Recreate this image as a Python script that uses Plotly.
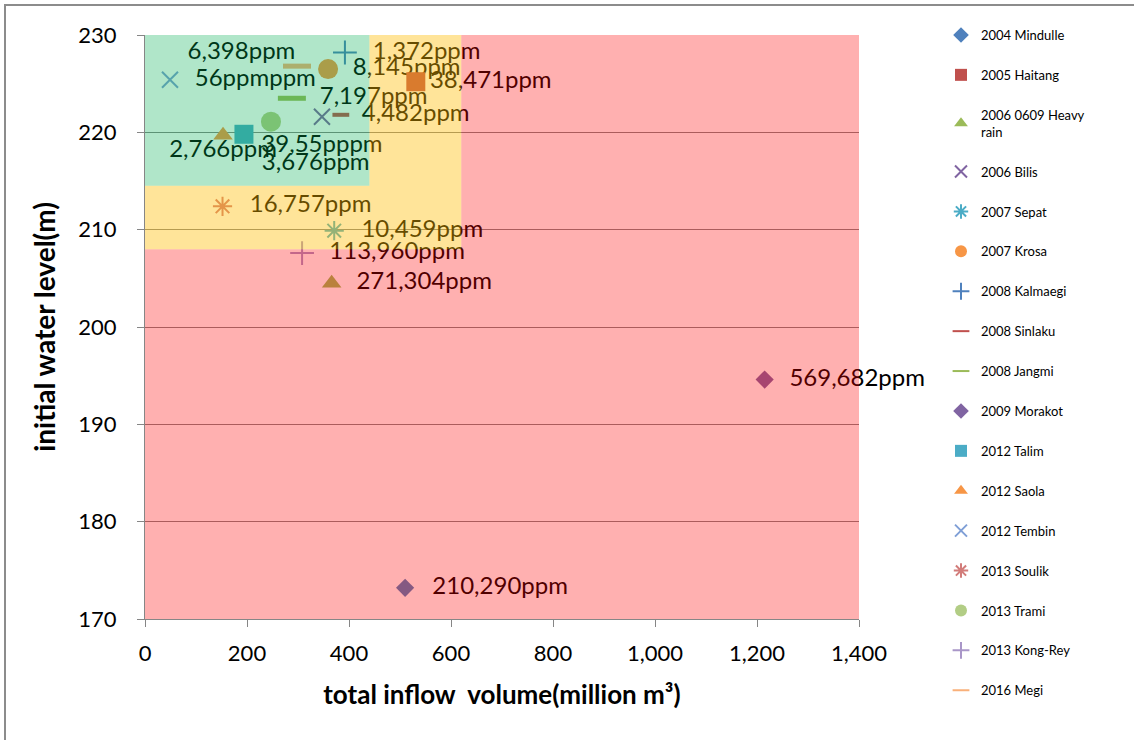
import plotly.graph_objects as go

# ---------------- data ----------------
events = ["2004 Mindulle", "2005 Haitang", "2006 0609 Heavy<br>rain", "2006 Bilis",
          "2007 Sepat", "2007 Krosa", "2008 Kalmaegi", "2008 Sinlaku", "2008 Jangmi",
          "2009 Morakot", "2012 Talim", "2012 Saola", "2012 Tembin", "2013 Soulik",
          "2013 Trami", "2013 Kong-Rey", "2016 Megi"]
inflow = [510, 531, 366, 347, 371, 359, 392, 384, 288, 1215, 194, 153, 49, 152, 247, 308, 298]
water_level = [173.2, 225.2, 204.5, 221.6, 209.9, 226.5, 228.2, 221.8, 223.5, 194.6,
               219.8, 219.7, 225.4, 212.4, 221.1, 207.6, 226.8]
turbidity = ["210,290ppm", "38,471ppm", "271,304ppm", "39,55pppm", "10,459ppm", "8,145ppm",
             "1,372ppm", "4,482ppm", "7,197ppm", "569,682ppm", "3,676ppm", "2,766ppm",
             "56ppmppm", "16,757ppm", "", "113,960ppm", "6,398ppm"]

# zone limits (inflow max, level min)
red_zone = [1400, 170]
yellow_zone = [620, 208]
green_zone = [440, 214.5]

# ---------------- styles ----------------
colors = ["#4F81BD", "#C0504D", "#9BBB59", "#8064A2", "#4BACC6", "#F79646", "#4F81BD",
          "#C0504D", "#9BBB59", "#8064A2", "#4BACC6", "#F79646", "#7F9FD6", "#D27C7A",
          "#B2CD85", "#A996C8", "#F9B07A"]
symbols = ["diamond", "square", "triangle-up", "x-thin", "asterisk", "circle", "cross-thin",
           "line-ew", "line-ew", "diamond", "square", "triangle-up", "x-thin", "asterisk",
           "circle", "cross-thin", "line-ew"]
sizes = [14, 19, 17, 16, 16, 20, 17, 12, 20, 14, 19, 17, 16, 16, 20, 17, 20]
linew = [0, 0, 0, 2, 2, 0, 2, 4, 5, 0, 0, 0, 2, 2, 0, 2, 5]
# label placement (position + spacing from the point, as an invisible marker size)
textpos = ["middle right", "middle right", "middle right", "bottom center", "middle right",
           "middle right", "middle right", "middle right", "middle right", "middle right",
           "bottom right", "bottom center", "middle right", "middle right", "middle right",
           "middle right", "top left"]
label_gap = [42, 21, 38, 26, 42, 38, 43, 32, 43, 38, 27, 5, 38, 42, 10, 42, 1]

FONT = "Lato, 'Open Sans', sans-serif"
W, H = 1134, 740
ML, MR, MT, MB = 145, 275, 35, 121

fig = go.Figure()
# data labels (drawn under the coloured zones, like the markers)
fig.add_trace(go.Scatter(
    x=inflow, y=water_level, mode="markers+text", text=turbidity, textposition=textpos,
    textfont=dict(family=FONT, size=24, color="black"),
    marker=dict(size=label_gap, color="rgba(0,0,0,0)", line=dict(width=0)),
    showlegend=False, hoverinfo="skip", cliponaxis=False,
))
for i, name in enumerate(events):
    fig.add_trace(go.Scatter(
        x=[inflow[i]], y=[water_level[i]], name=name, mode="markers",
        marker=dict(symbol=symbols[i], size=sizes[i], color=colors[i],
                    line=dict(color=colors[i], width=linew[i])),
        legendgroup=f"g{i}", cliponaxis=False,
    ))

xr, yr_ = red_zone
xy, yy = yellow_zone
xg, yg = green_zone
top = 230
shapes = [
    dict(type="path", xref="x", yref="y", layer="above", line=dict(width=0),
         fillcolor="rgba(255,0,0,0.31)",
         path=f"M 0,{yr_} L {xr},{yr_} L {xr},{top} L {xy},{top} L {xy},{yy} L 0,{yy} Z"),
    dict(type="path", xref="x", yref="y", layer="above", line=dict(width=0),
         fillcolor="rgba(255,187,0,0.40)",
         path=f"M 0,{yy} L {xy},{yy} L {xy},{top} L {xg},{top} L {xg},{yg} L 0,{yg} Z"),
    dict(type="rect", xref="x", yref="y", layer="above", line=dict(width=0),
         fillcolor="rgba(0,174,82,0.31)", x0=0, x1=xg, y0=yg, y1=top),
]
pw, ph = W - ML - MR, H - MT - MB
shapes.append(dict(type="rect", xref="paper", yref="paper", layer="below",
                   x0=(5 - ML) / pw, x1=(W + 20 - ML) / pw,
                   y0=-(MB + 20) / ph, y1=1 + (MT - 5) / ph,
                   line=dict(color="#8C8C8C", width=2), fillcolor="rgba(0,0,0,0)"))

fig.update_layout(
    width=W, height=H, margin=dict(l=ML, r=MR, t=MT, b=MB),
    paper_bgcolor="white", plot_bgcolor="white",
    font=dict(family=FONT, color="black"),
    shapes=shapes,
    showlegend=True,
    legend=dict(x=(941 - ML) / pw, y=1 + (MT - 20) / ph, xanchor="left", yanchor="top",
                font=dict(family=FONT, size=13, color="black"), maxheight=740,
                tracegroupgap=20, itemsizing="constant", bgcolor="rgba(0,0,0,0)"),
    xaxis=dict(range=[0, 1400], dtick=200, tickformat=",", showgrid=False, zeroline=False,
               showline=True, linecolor="#868686", linewidth=1, ticks="outside",
               ticklen=7, tickcolor="#868686", ticklabelstandoff=8,
               tickfont=dict(family=FONT, size=22, color="black"),
               title=dict(text="<b>total inflow  volume(million m³)</b>",
                          font=dict(family=FONT, size=26, color="black"), standoff=20)),
    yaxis=dict(range=[170, 230], dtick=10, showgrid=True, gridcolor="#868686", gridwidth=1,
               zeroline=False, showline=True, linecolor="#868686", linewidth=1,
               ticks="outside", ticklen=7, tickcolor="#868686", ticklabelstandoff=16,
               tickfont=dict(family=FONT, size=22, color="black"),
               title=dict(text="<b>initial water level(m)</b>",
                          font=dict(family=FONT, size=28, color="black"), standoff=14)),
)

fig.write_html("out.html")
